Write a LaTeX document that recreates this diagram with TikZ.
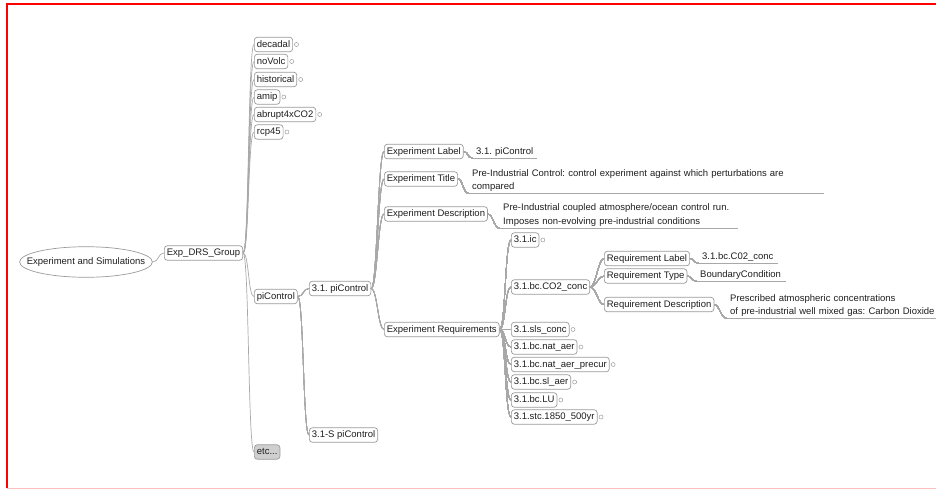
\documentclass[tikz,border=0pt]{standalone}
\usepackage{fontspec}
\setmainfont{Liberation Sans}
\frenchspacing
\usetikzlibrary{shapes.geometric, positioning}
\definecolor{grisrama}{HTML}{A8A8A8}
\definecolor{grisborde}{HTML}{9A9A9A}
\definecolor{grisetc}{HTML}{CFCFCF}
\definecolor{texto}{HTML}{1E1E1E}
\tikzstyle{tema} = [draw=grisborde, fill=white, rounded corners=3pt, line width=0.7pt, inner xsep=2.5pt, inner ysep=2.5pt, text height=7.3pt, text depth=2.2pt, anchor=west, text=texto]
\tikzstyle{hoja} = [anchor=south west, inner xsep=4pt, inner ysep=1.5pt, align=left, text=texto]
\tikzstyle{raiz} = [draw=grisborde, ellipse, line width=0.7pt, inner xsep=-12.2pt, inner ysep=6.3pt, text height=7pt, text depth=2pt, text=texto]
\tikzstyle{rama} = [draw=grisrama, line width=0.7pt]
\tikzstyle{subrayado} = [draw=grisrama, line width=0.9pt]
\tikzstyle{plegado} = [draw=grisborde, line width=0.5pt]
\newcommand{\conecta}[2]{\draw[rama] (#1.east) .. controls +(6,0) and +(-6,0) .. (#2.west);}
\newcommand{\conectahoja}[2]{\draw[rama] (#1.east) .. controls +(5,0) and +(-5,0) .. (#2.south west);}

\begin{document}
\begin{tikzpicture}[x=1pt, y=-1pt, font=\fontsize{9.5}{13}\selectfont]
	\useasboundingbox (0,0) rectangle (936,489);
	% marco
	\draw[red, line width=1.3pt] (936,4) -- (7,4) -- (7,488);
	\draw[red!25, line width=1pt] (7,488) -- (936,488);

	\node[raiz] (exp) at (86,262) {Experiment and Simulations};
	\node[tema] (drs) at (164,253) {Exp\_DRS\_Group};

	% experimentos
	\node[tema] (decadal) at (254,44.5) {decadal};
	\node[tema] (novolc) at (254,61.5) {noVolc};
	\node[tema] (historical) at (254,79.5) {historical};
	\node[tema] (amip) at (254,97) {amip};
	\node[tema] (abrupt) at (254,114.5) {abrupt4xCO2};
	\node[tema] (rcp) at (254,132) {rcp45};
	\node[tema] (picontrol) at (254,296.5) {piControl};
	\node[tema, fill=grisetc] (etc) at (254,452) {etc...};

	\node[tema] (pi31) at (309,288.5) {3.1. piControl};
	\node[tema] (pi31s) at (309,435) {3.1-S piControl};

	\node[tema] (elabel) at (384,151.5) {Experiment Label};
	\node[tema] (etitle) at (384,179) {Experiment Title};
	\node[tema] (edesc) at (384,214) {Experiment Description};
	\node[tema] (ereq) at (384,329.5) {Experiment Requirements};

	\node[hoja, text width=57pt] (elabelh) at (472,158) {\mbox{3.1. piControl}};
	\node[hoja, text width=348pt] (etitleh) at (468,193) {\mbox{Pre-Industrial Control: control experiment against which perturbations are}\\\mbox{compared}};
	\node[hoja, text width=231pt, font=\fontsize{9.5}{14}\selectfont] (edesch) at (499,228) {\mbox{Pre-Industrial coupled atmosphere/ocean control run.}\\\mbox{Imposes non-evolving pre-industrial conditions}};

	% requisitos
	\node[tema] (ic) at (511,240) {3.1.ic};
	\node[tema] (co2) at (511,287) {3.1.bc.CO2\_conc};
	\node[tema] (sls) at (511,329.5) {3.1.sls\_conc};
	\node[tema] (nataer) at (511,347) {3.1.bc.nat\_aer};
	\node[tema] (precur) at (511,364.5) {3.1.bc.nat\_aer\_precur};
	\node[tema] (slaer) at (511,382) {3.1.bc.sl\_aer};
	\node[tema] (lu) at (511,400) {3.1.bc.LU};
	\node[tema] (stc) at (511,417) {3.1.stc.1850\_500yr};

	\node[tema] (rlabel) at (604,258.5) {Requirement Label};
	\node[tema] (rtype) at (604,276) {Requirement Type};
	\node[tema] (rdesc) at (604,304.5) {Requirement Description};

	\node[hoja, text width=72pt] (rlabelh) at (698,263) {\mbox{3.1.bc.C02\_conc}};
	\node[hoja, text width=82pt] (rtypeh) at (696,281) {\mbox{BoundaryCondition}};
	\node[hoja, text width=203pt] (rdesch) at (726,318) {\mbox{Prescribed atmospheric concentrations}\\\mbox{of pre-industrial well mixed gas: Carbon Dioxide}};

	% ramas
	\conecta{exp}{drs}
	\foreach \n in {decadal, novolc, historical, amip, abrupt, rcp, picontrol, etc}
		\conecta{drs}{\n}
	\conecta{picontrol}{pi31}
	\conecta{picontrol}{pi31s}
	\foreach \n in {elabel, etitle, edesc, ereq}
		\conecta{pi31}{\n}
	\foreach \n in {ic, co2, sls, nataer, precur, slaer, lu, stc}
		\conecta{ereq}{\n}
	\foreach \n in {rlabel, rtype, rdesc}
		\conecta{co2}{\n}
	\conectahoja{elabel}{elabelh}
	\conectahoja{etitle}{etitleh}
	\conectahoja{edesc}{edesch}
	\conectahoja{rlabel}{rlabelh}
	\conectahoja{rtype}{rtypeh}
	\conectahoja{rdesc}{rdesch}
	\foreach \n in {elabelh, etitleh, edesch, rlabelh, rtypeh, rdesch}
		\draw[subrayado] (\n.south west) -- (\n.south east);

	% nodos plegados
	\foreach \n in {decadal, novolc, historical, amip, abrupt, rcp, ic, sls, nataer, precur, slaer, lu, stc}
		\draw[plegado] ([xshift=3.5pt]\n.east) circle (2pt);
\end{tikzpicture}
\end{document}
